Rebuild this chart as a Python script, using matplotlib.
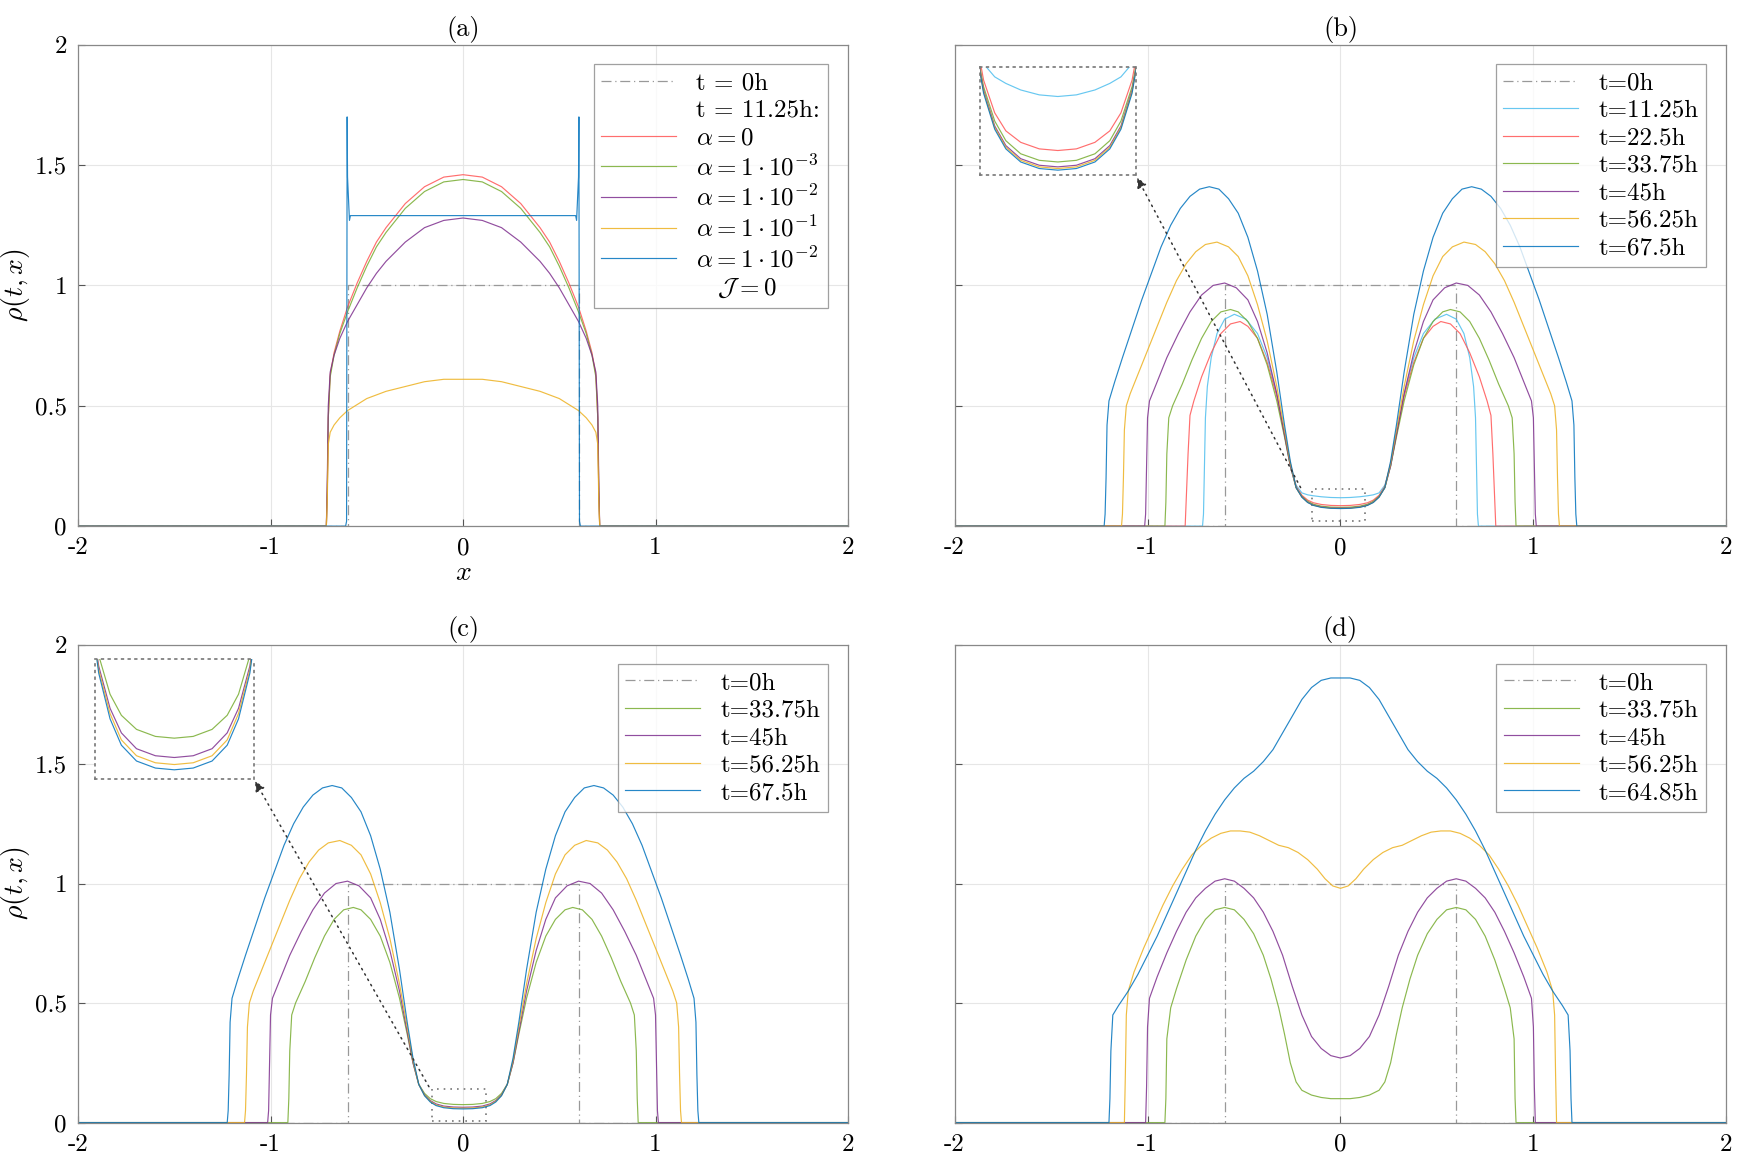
import matplotlib
matplotlib.use("Agg")
import matplotlib.pyplot as plt
from matplotlib.patches import Rectangle
import numpy as np

plt.rcParams['mathtext.fontset'] = 'cm'
plt.rcParams['font.family'] = ['cmr10', 'DejaVu Serif']
plt.rcParams['axes.unicode_minus'] = False
plt.rcParams['axes.formatter.use_mathtext'] = True

C_RED = '#ff5555'; C_GRN = '#77ac30'; C_PUR = '#7e2f8e'; C_ORA = '#edb120'
C_BLU = '#0072bd'; C_LBL = '#4dbeee'; C_IC = '#999999'

ic_x = [-2, -0.6, -0.6, 0.6, 0.6, 2]
ic_y = [0, 0, 1, 1, 0, 0]

# ---- panel (a): half profiles (x >= 0), mirrored
a_x = [0, 0.1, 0.2, 0.3, 0.4, 0.45, 0.5, 0.55, 0.6, 0.64, 0.67, 0.69, 0.7, 0.705, 0.71]
a_red_y = [1.46, 1.45, 1.41, 1.34, 1.24, 1.18, 1.1, 1.01, 0.91, 0.81, 0.72, 0.63, 0.45, 0.15, 0]
a_grn_y = [1.44, 1.43, 1.39, 1.32, 1.22, 1.16, 1.08, 0.99, 0.89, 0.8, 0.71, 0.62, 0.45, 0.15, 0]
a_pur_y = [1.28, 1.27, 1.24, 1.18, 1.1, 1.05, 0.99, 0.92, 0.85, 0.78, 0.71, 0.64, 0.5, 0.2, 0]
a_ora_y = [0.61, 0.61, 0.6, 0.58, 0.56, 0.545, 0.53, 0.505, 0.48, 0.45, 0.42, 0.39, 0.34, 0.12, 0]
a_blu_x = [0, 0.3, 0.57, 0.585, 0.59, 0.6, 0.602, 0.605, 0.61]
a_blu_y = [1.29, 1.29, 1.29, 1.29, 1.27, 1.45, 1.70, 0.02, 0]

# ---- panel (b)
cen_x = [0, 0.05, 0.1, 0.14, 0.17, 0.2, 0.23]
b_blu_x = cen_x + [0.26, 0.29, 0.33, 0.38, 0.43, 0.48, 0.53, 0.58, 0.63, 0.68, 0.73, 0.78, 0.83, 0.88, 0.93, 0.98, 1.03, 1.08, 1.13, 1.17, 1.2, 1.21, 1.215, 1.22, 1.225]
b_blu_y = [0.073, 0.074, 0.078, 0.086, 0.098, 0.12, 0.16] + [0.27, 0.42, 0.64, 0.88, 1.06, 1.2, 1.3, 1.36, 1.4, 1.41, 1.4, 1.37, 1.32, 1.25, 1.16, 1.05, 0.94, 0.82, 0.7, 0.6, 0.52, 0.42, 0.2, 0.05, 0]
b_ora_x = cen_x + [0.26, 0.29, 0.33, 0.38, 0.43, 0.48, 0.53, 0.58, 0.64, 0.7, 0.75, 0.8, 0.85, 0.9, 0.95, 1.0, 1.05, 1.09, 1.11, 1.12, 1.125, 1.13, 1.135]
b_ora_y = [0.074, 0.075, 0.079, 0.087, 0.099, 0.121, 0.16] + [0.26, 0.4, 0.58, 0.77, 0.92, 1.04, 1.12, 1.16, 1.18, 1.17, 1.14, 1.09, 1.02, 0.93, 0.83, 0.73, 0.63, 0.55, 0.5, 0.4, 0.2, 0.05, 0]
b_pur_x = cen_x + [0.26, 0.29, 0.33, 0.38, 0.43, 0.48, 0.54, 0.6, 0.66, 0.72, 0.78, 0.84, 0.9, 0.95, 0.99, 1.0, 1.005, 1.01, 1.015]
b_pur_y = [0.075, 0.076, 0.08, 0.088, 0.1, 0.122, 0.16] + [0.25, 0.38, 0.55, 0.72, 0.85, 0.94, 0.99, 1.01, 1.0, 0.96, 0.89, 0.8, 0.7, 0.6, 0.52, 0.45, 0.25, 0.05, 0]
b_grn_x = cen_x + [0.26, 0.29, 0.33, 0.38, 0.43, 0.48, 0.53, 0.57, 0.62, 0.67, 0.72, 0.77, 0.82, 0.87, 0.89, 0.9, 0.905, 0.91]
b_grn_y = [0.078, 0.079, 0.083, 0.091, 0.103, 0.124, 0.16] + [0.25, 0.37, 0.52, 0.67, 0.78, 0.85, 0.89, 0.9, 0.89, 0.85, 0.78, 0.69, 0.59, 0.5, 0.45, 0.3, 0.1, 0]
b_red_x = cen_x + [0.26, 0.29, 0.33, 0.38, 0.43, 0.48, 0.52, 0.57, 0.62, 0.67, 0.72, 0.76, 0.78, 0.79, 0.8, 0.805]
b_red_y = [0.085, 0.086, 0.09, 0.097, 0.108, 0.128, 0.165] + [0.26, 0.38, 0.54, 0.68, 0.78, 0.83, 0.85, 0.84, 0.8, 0.72, 0.62, 0.52, 0.46, 0.3, 0.1, 0]
b_lbl_x = cen_x + [0.26, 0.29, 0.33, 0.38, 0.43, 0.49, 0.55, 0.6, 0.64, 0.67, 0.69, 0.7, 0.705, 0.71, 0.715]
b_lbl_y = [0.118, 0.119, 0.122, 0.126, 0.13, 0.138, 0.17] + [0.25, 0.38, 0.55, 0.7, 0.8, 0.86, 0.88, 0.86, 0.8, 0.7, 0.58, 0.45, 0.25, 0.05, 0]

# ---- panel (c): same outer shapes, different centre values
c_grn_y = [0.075, 0.076, 0.08, 0.088, 0.1, 0.122, 0.16] + b_grn_y[7:]
c_pur_y = [0.064, 0.065, 0.069, 0.078, 0.092, 0.116, 0.16] + b_pur_y[7:]
c_ora_y = [0.06, 0.061, 0.065, 0.074, 0.089, 0.114, 0.16] + b_ora_y[7:]
c_blu_y = [0.057, 0.058, 0.062, 0.071, 0.086, 0.112, 0.16] + b_blu_y[7:]

# ---- panel (d)
d_blu_x = [0, 0.05, 0.1, 0.15, 0.2, 0.25, 0.3, 0.35, 0.4, 0.45, 0.5, 0.55, 0.6, 0.65, 0.7, 0.75, 0.8, 0.85, 0.9, 0.95, 1.0, 1.05, 1.1, 1.15, 1.18, 1.19, 1.195, 1.2]
d_blu_y = [1.86, 1.86, 1.85, 1.82, 1.77, 1.7, 1.63, 1.56, 1.51, 1.47, 1.44, 1.4, 1.35, 1.29, 1.22, 1.14, 1.05, 0.96, 0.87, 0.78, 0.7, 0.62, 0.55, 0.49, 0.45, 0.3, 0.1, 0]
d_ora_x = [0, 0.04, 0.08, 0.12, 0.17, 0.22, 0.27, 0.32, 0.37, 0.42, 0.47, 0.52, 0.57, 0.62, 0.67, 0.72, 0.77, 0.82, 0.87, 0.92, 0.97, 1.02, 1.07, 1.1, 1.11, 1.115, 1.12]
d_ora_y = [0.98, 0.99, 1.02, 1.06, 1.1, 1.13, 1.15, 1.16, 1.18, 1.2, 1.215, 1.22, 1.22, 1.21, 1.19, 1.16, 1.12, 1.06, 0.99, 0.91, 0.82, 0.73, 0.63, 0.55, 0.45, 0.2, 0]
d_pur_x = [0, 0.05, 0.1, 0.15, 0.2, 0.25, 0.3, 0.35, 0.4, 0.45, 0.5, 0.55, 0.6, 0.65, 0.7, 0.75, 0.8, 0.85, 0.9, 0.95, 0.99, 1.0, 1.005, 1.01]
d_pur_y = [0.27, 0.28, 0.31, 0.36, 0.45, 0.57, 0.7, 0.8, 0.88, 0.94, 0.98, 1.01, 1.02, 1.01, 0.98, 0.94, 0.88, 0.8, 0.71, 0.61, 0.52, 0.4, 0.15, 0]
d_grn_x = [0, 0.05, 0.1, 0.15, 0.2, 0.23, 0.26, 0.29, 0.32, 0.36, 0.4, 0.45, 0.5, 0.55, 0.6, 0.65, 0.7, 0.75, 0.8, 0.85, 0.88, 0.9, 0.905, 0.91]
d_grn_y = [0.1, 0.1, 0.105, 0.115, 0.135, 0.17, 0.25, 0.37, 0.48, 0.6, 0.7, 0.79, 0.85, 0.89, 0.9, 0.89, 0.85, 0.78, 0.68, 0.56, 0.48, 0.35, 0.1, 0]

def full(hx, hy):
    hx = np.asarray(hx, float); hy = np.asarray(hy, float)
    x = np.concatenate([[-2.0], -hx[::-1], hx[1:], [2.0]])
    y = np.concatenate([[0.0], hy[::-1], hy[1:], [0.0]])
    return x, y

fig = plt.figure(figsize=(17.42, 11.64), dpi=100)
pos = {'a': [0.0448, 0.548, 0.442, 0.4136], 'b': [0.548, 0.548, 0.443, 0.4136],
       'c': [0.0448, 0.0356, 0.442, 0.4107], 'd': [0.548, 0.0356, 0.443, 0.4107]}
axs = {k: fig.add_axes(v) for k, v in pos.items()}
LW = 0.85; AL = 0.85
LEGKW = dict(loc='upper right', fontsize=18, fancybox=False, edgecolor='#888888',
             handlelength=3.0, borderpad=0.3, labelspacing=0.2, bbox_to_anchor=(0.99, 0.985))

def style(ax, title, ylab=True):
    ax.set_xlim(-2, 2); ax.set_ylim(0, 2)
    ax.set_xticks([-2, -1, 0, 1, 2])
    ax.set_xticklabels(['-2', '-1', '0', '1', '2'])
    ax.set_yticks([0, 0.5, 1, 1.5, 2])
    ax.set_yticklabels(['0', '0.5', '1', '1.5', '2'] if ylab else [])
    ax.tick_params(labelsize=18, direction='in', length=5, color='#555555')
    ax.tick_params(axis='x', pad=8)
    ax.tick_params(axis='y', pad=8)
    for s in ax.spines.values():
        s.set_color('#888888'); s.set_linewidth(0.9)
    ax.grid(True, color='#e6e6e6', lw=0.8)
    ax.set_axisbelow(True)
    ax.set_title(title, fontsize=19, pad=6)

def ic(ax, label):
    return ax.plot(ic_x, ic_y, color=C_IC, lw=0.9, ls=(0, (8, 3, 1, 3)), label=label)[0]

# (a)
ax = axs['a']
style(ax, '(a)')
ic(ax, 't = 0h')
ax.plot([], [], color='none', label='t = 11.25h:')
ax.plot(*full(a_x, a_red_y), color=C_RED, lw=LW, alpha=AL, label='$\\alpha = 0$')
ax.plot(*full(a_x, a_grn_y), color=C_GRN, lw=LW, alpha=AL, label='$\\alpha = 1\\cdot10^{-3}$')
ax.plot(*full(a_x, a_pur_y), color=C_PUR, lw=LW, alpha=AL, label='$\\alpha = 1\\cdot10^{-2}$')
ax.plot(*full(a_x, a_ora_y), color=C_ORA, lw=LW, alpha=AL, label='$\\alpha = 1\\cdot10^{-1}$')
ax.plot(*full(a_blu_x, a_blu_y), color=C_BLU, lw=LW, alpha=AL, label='$\\alpha = 1\\cdot10^{-2}$')
ax.plot([], [], color='none', label='$\\quad\\mathcal{J} = 0$')
ax.legend(**LEGKW).get_frame().set_linewidth(0.9)
ax.set_ylabel('$\\rho(t,x)$', fontsize=20, labelpad=2)
ax.set_xlabel('$x$', fontsize=20, labelpad=0)

def inset_box(ax, rect_fig, curves, xl, yl, box, arrow_from):
    rx, ry, rw, rh = box
    ax.add_patch(Rectangle((rx, ry), rw, rh, fill=False, ls=(0, (1, 3)), ec='#777777', lw=1.2))
    ins = fig.add_axes(rect_fig)
    for x, y, c in curves:
        ins.plot(x, y, color=c, lw=LW, alpha=AL)
    ins.set_xlim(*xl); ins.set_ylim(*yl)
    ins.set_xticks([]); ins.set_yticks([])
    for s in ins.spines.values():
        s.set_linestyle((0, (1, 3))); s.set_edgecolor('#777777'); s.set_linewidth(1.2)
    ax.annotate('', xy=(rect_fig[0] + rect_fig[2], rect_fig[1]), xycoords='figure fraction',
                xytext=arrow_from, textcoords='data',
                arrowprops=dict(arrowstyle='-|>', ls=(0, (1, 3)), color='#333333', lw=1.1,
                                mutation_scale=15))

# (b)
ax = axs['b']
style(ax, '(b)', ylab=False)
ic(ax, 't=0h')
bc = [(b_lbl_x, b_lbl_y, C_LBL, 't=11.25h'), (b_red_x, b_red_y, C_RED, 't=22.5h'),
      (b_grn_x, b_grn_y, C_GRN, 't=33.75h'), (b_pur_x, b_pur_y, C_PUR, 't=45h'),
      (b_ora_x, b_ora_y, C_ORA, 't=56.25h'), (b_blu_x, b_blu_y, C_BLU, 't=67.5h')]
cur = []
for hx, hy, c, l in bc:
    x, y = full(hx, hy)
    ax.plot(x, y, color=c, lw=LW, alpha=AL, label=l)
    cur.append((x, y, c))
ax.legend(**LEGKW).get_frame().set_linewidth(0.9)
inset_box(ax, [0.5625, 0.8496, 0.0895, 0.0928], cur, (-0.21, 0.21), (0.07, 0.136),
          (-0.145, 0.02, 0.272, 0.133), (-0.2, 0.15))

# (c)
ax = axs['c']
style(ax, '(c)')
ic(ax, 't=0h')
cc = [(b_grn_x, c_grn_y, C_GRN, 't=33.75h'), (b_pur_x, c_pur_y, C_PUR, 't=45h'),
      (b_ora_x, c_ora_y, C_ORA, 't=56.25h'), (b_blu_x, c_blu_y, C_BLU, 't=67.5h')]
cur = []
for hx, hy, c, l in cc:
    x, y = full(hx, hy)
    ax.plot(x, y, color=c, lw=LW, alpha=AL, label=l)
    cur.append((x, y, c))
ax.legend(**LEGKW).get_frame().set_linewidth(0.9)
ax.set_ylabel('$\\rho(t,x)$', fontsize=20, labelpad=2)
inset_box(ax, [0.0545, 0.3311, 0.0911, 0.1027], cur, (-0.21, 0.21), (0.052, 0.12),
          (-0.16, 0.005, 0.28, 0.135), (-0.17, 0.14))

# (d)
ax = axs['d']
style(ax, '(d)', ylab=False)
ic(ax, 't=0h')
for hx, hy, c, l in [(d_grn_x, d_grn_y, C_GRN, 't=33.75h'), (d_pur_x, d_pur_y, C_PUR, 't=45h'),
                     (d_ora_x, d_ora_y, C_ORA, 't=56.25h'), (d_blu_x, d_blu_y, C_BLU, 't=64.85h')]:
    ax.plot(*full(hx, hy), color=c, lw=LW, alpha=AL, label=l)
ax.legend(**LEGKW).get_frame().set_linewidth(0.9)

fig.savefig('out.png', dpi=100)
